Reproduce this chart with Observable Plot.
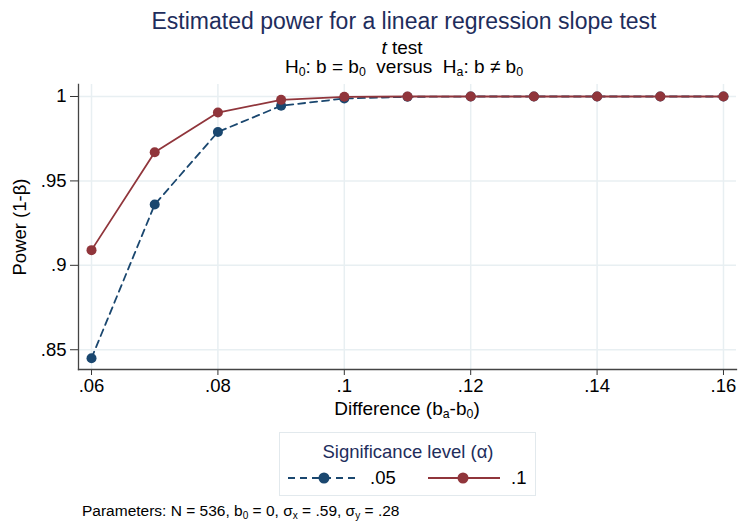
<!DOCTYPE html>
<html>
<head>
<meta charset="utf-8">
<script src="https://cdn.jsdelivr.net/npm/d3@7"></script>
<script src="https://cdn.jsdelivr.net/npm/@observablehq/plot@0.6"></script>
<style>
  html, body { margin: 0; padding: 0; background: #fff; }
  #wrap { position: relative; width: 739px; height: 523px; font-family: "Liberation Sans", Arial, sans-serif; color: #000; overflow: hidden; }
  .abs { position: absolute; white-space: nowrap; }
  .title { left: 0; width: 808px; text-align: center; top: 8px; font-size: 23px; color: #1e2d5c; }
  .sub1 { left: 0; width: 804px; text-align: center; top: 37px; font-size: 19px; }
  .sub2 { left: 0; width: 808px; text-align: center; top: 56px; font-size: 19px; }
  sub { font-size: 65%; vertical-align: -0.25em; line-height: 0; }
  .xlab { left: 78px; width: 658px; text-align: center; top: 398px; font-size: 19px; }
  #chart { position: absolute; left: 0; top: 80px; }
  .legend { left: 279px; top: 432px; width: 257px; height: 64px; border: 1px solid #e2e9ed; box-sizing: border-box; }
  .ltitle { left: 0; width: 256px; text-align: center; top: 8px; font-size: 18.5px; color: #1e2d5c; }
  .caption { left: 82px; top: 502px; font-size: 15.5px; }
</style>
</head>
<body>
<div id="wrap">
  <div class="abs title">Estimated power for a linear regression slope test</div>
  <div class="abs sub1"><i>t</i> test</div>
  <div class="abs sub2">H<sub>0</sub>: b = b<sub>0</sub>&nbsp; versus&nbsp; H<sub>a</sub>: b ≠ b<sub>0</sub></div>
  <div id="chart"></div>
  <div class="abs xlab">Difference (b<sub>a</sub>-b<sub>0</sub>)</div>
  <div class="abs legend">
    <div class="abs ltitle">Significance level (α)</div>
    <svg class="abs" style="left:0;top:30px" width="257" height="30">
      <line x1="8" x2="80" y1="15" y2="15" stroke="#1a476f" stroke-width="1.8" stroke-dasharray="7,5"></line>
      <circle cx="44" cy="15" r="5.5" fill="#1a476f"></circle>
      <text x="90" y="21" font-size="18.5" font-family="Liberation Sans, Arial, sans-serif">.05</text>
      <line x1="148" x2="220" y1="15" y2="15" stroke="#90353b" stroke-width="1.8"></line>
      <circle cx="183" cy="15" r="5.5" fill="#90353b"></circle>
      <text x="231" y="21" font-size="18.5" font-family="Liberation Sans, Arial, sans-serif">.1</text>
    </svg>
  </div>
  <div class="abs caption">Parameters: N = 536, b<sub>0</sub> = 0, σ<sub>x</sub> = .59, σ<sub>y</sub> = .28</div>
</div>
<script>
const differences = [0.06, 0.07, 0.08, 0.09, 0.10, 0.11, 0.12, 0.13, 0.14, 0.15, 0.16];
const power05 = [0.845, 0.936, 0.979, 0.9945, 0.9988, 0.9998, 1.0, 1.0, 1.0, 1.0, 1.0];
const power10 = [0.909, 0.967, 0.9905, 0.998, 0.9998, 1.0, 1.0, 1.0, 1.0, 1.0, 1.0];
const alphaLevels = [".05", ".1"];
const alphaColors = ["#1a476f", "#90353b"];
const xTicks = [0.06, 0.08, 0.10, 0.12, 0.14, 0.16];
const yTicks = [0.85, 0.90, 0.95, 1.0];

const rows05 = differences.map((d, i) => ({diff: d, power: power05[i], alpha: alphaLevels[0]}));
const rows10 = differences.map((d, i) => ({diff: d, power: power10[i], alpha: alphaLevels[1]}));
const fmt = d => d3.format(".2~f")(d).replace(/^0\./, ".");

const chart = Plot.plot({
  width: 739,
  height: 340,
  marginTop: 4,
  marginBottom: 51,
  marginLeft: 78,
  marginRight: 3,
  style: {fontFamily: "Liberation Sans, Arial, sans-serif", fontSize: "18px", color: "#000", background: "#fff", overflow: "visible"},
  x: {domain: [0.05794, 0.16206]},
  y: {domain: [0.8383, 1.0071]},
  color: {domain: alphaLevels, range: alphaColors},
  marks: [
    Plot.gridX(xTicks, {stroke: "#e8eff2", strokeOpacity: 1, strokeWidth: 1.5}),
    Plot.gridY(yTicks, {stroke: "#e8eff2", strokeOpacity: 1, strokeWidth: 1.5}),
    Plot.axisX(xTicks, {tickFormat: fmt, tickSize: 6, tickPadding: 3, fontSize: 18.5, label: null, stroke: "#333"}),
    Plot.axisY(yTicks, {tickFormat: fmt, tickSize: 8, tickPadding: 4, fontSize: 18.5, stroke: "#333",
      label: "Power (1-β)", labelAnchor: "center", labelArrow: "none", labelOffset: 66}),
    Plot.frame({anchor: "left", stroke: "#444", strokeWidth: 1.3}),
    Plot.frame({anchor: "bottom", stroke: "#444", strokeWidth: 1.3}),
    Plot.line(rows05, {x: "diff", y: "power", stroke: "alpha", strokeWidth: 1.8, strokeDasharray: "7,5"}),
    Plot.dot(rows05, {x: "diff", y: "power", fill: "alpha", r: 5}),
    Plot.line(rows10, {x: "diff", y: "power", stroke: "alpha", strokeWidth: 1.8}),
    Plot.dot(rows10, {x: "diff", y: "power", fill: "alpha", r: 5})
  ]
});
document.getElementById("chart").appendChild(chart);
</script>
</body>
</html>
